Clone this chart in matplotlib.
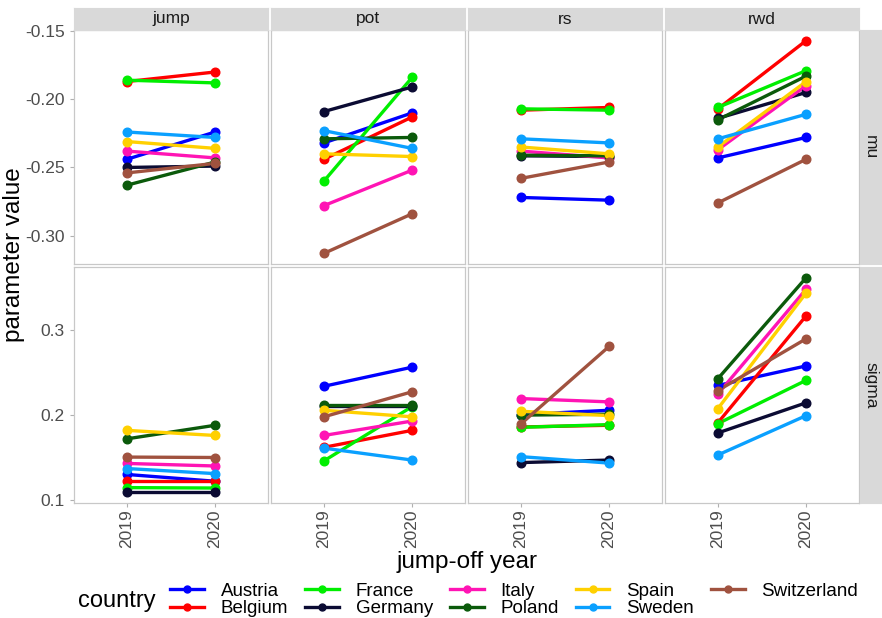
import matplotlib
matplotlib.use("Agg")
import matplotlib.pyplot as plt
from matplotlib.lines import Line2D

plt.rcParams.update({
    "font.family": ["Liberation Sans", "DejaVu Sans"],
    "axes.linewidth": 0.8,
})

# ── data ─────────────────────────────────────────────────────────────────────
COUNTRIES = ["Austria", "Belgium", "France", "Germany", "Italy",
             "Poland", "Spain", "Sweden", "Switzerland"]
COLORS = ["#0000FF", "#FF0000", "#00EE00", "#0B0B33", "#FF14B4",
          "#0B5A0B", "#FFD000", "#0AA0FF", "#A0523F"]
METHODS = ["jump", "pot", "rs", "rwd"]
PARAMS = ["mu", "sigma"]
YEARS = ["2019", "2020"]

# values per method, countries in the order above
MU_2019 = {
    "jump": [-0.244, -0.187, -0.186, -0.250, -0.238, -0.263, -0.231, -0.224, -0.254],
    "pot":  [-0.232, -0.244, -0.260, -0.209, -0.278, -0.229, -0.240, -0.223, -0.313],
    "rs":   [-0.272, -0.208, -0.207, -0.2415, -0.238, -0.241, -0.235, -0.229, -0.258],
    "rwd":  [-0.243, -0.207, -0.206, -0.214, -0.237, -0.215, -0.235, -0.229, -0.276],
}
MU_2020 = {
    "jump": [-0.224, -0.180, -0.188, -0.249, -0.243, -0.246, -0.236, -0.228, -0.247],
    "pot":  [-0.210, -0.213, -0.184, -0.191, -0.252, -0.228, -0.242, -0.236, -0.284],
    "rs":   [-0.274, -0.206, -0.208, -0.242, -0.243, -0.2415, -0.240, -0.232, -0.246],
    "rwd":  [-0.228, -0.157, -0.179, -0.195, -0.190, -0.183, -0.187, -0.211, -0.244],
}
SIGMA_2019 = {
    "jump": [0.130, 0.122, 0.1145, 0.109, 0.143, 0.172, 0.182, 0.137, 0.1505],
    "pot":  [0.234, 0.162, 0.146, 0.211, 0.176, 0.212, 0.2057, 0.161, 0.198],
    "rs":   [0.2006, 0.186, 0.1856, 0.144, 0.2195, 0.200, 0.2045, 0.151, 0.1896],
    "rwd":  [0.235, 0.191, 0.190, 0.179, 0.225, 0.243, 0.2077, 0.153, 0.229],
}
SIGMA_2020 = {
    "jump": [0.122, 0.122, 0.114, 0.109, 0.140, 0.188, 0.176, 0.131, 0.150],
    "pot":  [0.2565, 0.182, 0.210, 0.211, 0.193, 0.212, 0.198, 0.147, 0.2275],
    "rs":   [0.2057, 0.188, 0.1888, 0.147, 0.2156, 0.201, 0.1994, 0.1434, 0.281],
    "rwd":  [0.258, 0.317, 0.241, 0.2145, 0.3485, 0.362, 0.344, 0.1994, 0.290],
}
VALUES = {"mu": (MU_2019, MU_2020), "sigma": (SIGMA_2019, SIGMA_2020)}
YTICKS = {"mu": [-0.30, -0.25, -0.20, -0.15], "sigma": [0.1, 0.2, 0.3]}
YFMT = {"mu": "{:.2f}", "sigma": "{:.1f}"}

# ── layout (pixels on an 882 x 618 canvas) ───────────────────────────────────
W, H = 882, 618
COL_LEFT = [74, 271, 468, 665]
COL_W = 194
ROW_TOP = {"mu": 30, "sigma": 267}
ROW_H = {"mu": 234, "sigma": 236}
STRIP_H = 22
STRIP_W = 21

STRIP_BG = "#D9D9D9"
BORDER = "#C8C8C8"
TICK_TXT = "#4D4D4D"


def box(x, y, w, h):
    return [x / W, 1 - (y + h) / H, w / W, h / H]


fig = plt.figure(figsize=(W / 100, H / 100), dpi=100)

for param in PARAMS:
    v19, v20 = VALUES[param]
    allv = [v for m in METHODS for v in v19[m] + v20[m]]
    lo, hi = min(allv), max(allv)
    pad = (hi - lo) * 0.05
    for j, method in enumerate(METHODS):
        ax = fig.add_axes(box(COL_LEFT[j], ROW_TOP[param], COL_W, ROW_H[param]))
        # lines first, then all points on top
        for c, col in enumerate(COLORS):
            ax.plot(YEARS, [v19[method][c], v20[method][c]], color=col,
                    linewidth=2.4, solid_capstyle="butt", zorder=2)
        for c, col in enumerate(COLORS):
            ax.plot(YEARS, [v19[method][c], v20[method][c]], linestyle="none",
                    marker="o", markersize=6.2, color=col, zorder=3)
        ax.set_xlim(-0.6, 1.6)
        ax.set_ylim(lo - pad, hi + pad)
        for s in ax.spines.values():
            s.set_color(BORDER)
            s.set_linewidth(0.9)
        ax.tick_params(colors="#B0B0B0", length=3, width=0.8,
                       labelcolor=TICK_TXT, labelsize=12.5)
        ax.set_yticks(YTICKS[param])
        if j == 0:
            ax.set_yticklabels([YFMT[param].format(t) for t in YTICKS[param]])
        else:
            ax.tick_params(axis="y", length=0, labelleft=False)
        if param == "sigma":
            ax.tick_params(axis="x", labelrotation=90, pad=1.5)
        else:
            ax.tick_params(axis="x", length=0, labelbottom=False)

        # column strips on top row
        if param == "mu":
            sax = fig.add_axes(box(COL_LEFT[j], 8, COL_W, STRIP_H))
            sax.set_facecolor(STRIP_BG)
            sax.set_xticks([])
            sax.set_yticks([])
            for s in sax.spines.values():
                s.set_color(STRIP_BG)
            sax.text(0.5, 0.5, method, ha="center", va="center",
                     fontsize=12.5, color="#1A1A1A", transform=sax.transAxes)

    # row strip on the right
    rax = fig.add_axes(box(860, ROW_TOP[param], STRIP_W, ROW_H[param]))
    rax.set_facecolor(STRIP_BG)
    rax.set_xticks([])
    rax.set_yticks([])
    for s in rax.spines.values():
        s.set_color(STRIP_BG)
    rax.text(0.5, 0.5, param, ha="center", va="center", rotation=-90,
             fontsize=12.5, color="#1A1A1A", transform=rax.transAxes)

# axis titles
fig.text(467 / W, 1 - 562 / H, "jump-off year", ha="center", va="center",
         fontsize=17.5, color="black")
fig.text(14 / W, 1 - 255 / H, "parameter value", ha="center", va="center",
         rotation=90, fontsize=17.5, color="black")

# legend
handles = [Line2D([0], [0], color=c, linewidth=2.4, marker="o", markersize=5)
           for c in COLORS]
fig.text(78 / W, 1 - 601 / H, "country", ha="left", va="center",
         fontsize=17, color="black")
fig.legend(handles, COUNTRIES, ncol=5, loc="center left",
           bbox_to_anchor=(170 / W, 1 - 600 / H), frameon=False,
           fontsize=13.5, handlelength=1.8, handletextpad=0.9,
           columnspacing=0.9, labelspacing=0.0, borderpad=0, borderaxespad=0)

fig.savefig("out.png", dpi=100, facecolor="white")
